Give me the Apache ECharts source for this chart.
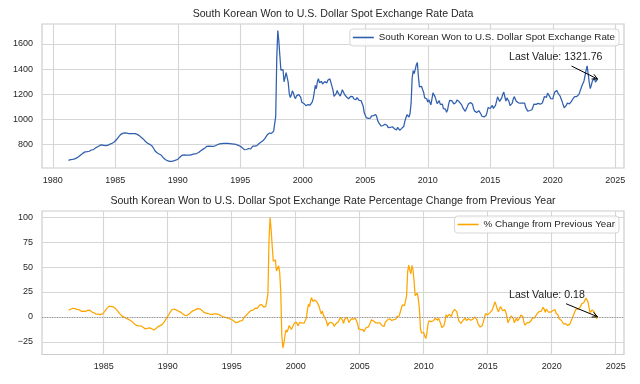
<!DOCTYPE html>
<html><head><meta charset="utf-8">
<script src="https://cdn.jsdelivr.net/npm/echarts@6/dist/echarts.min.js"></script>
<style>html,body{margin:0;padding:0;background:#fff}#c{width:640px;height:384px}</style>
</head><body><div id="c"></div>
<script>
// ---- data (monthly, from Apr 1981 to Aug 2023) ----
const startYear = 1981, startMonth = 4;
const krwUsd = [
  676, 679, 681, 683, 684, 686, 688, 691, 695,                       // 1981 Apr-Dec
  701, 707, 714, 721, 728, 733, 739, 743, 744, 745, 747, 748,        // 1982
  754, 758, 760, 761, 768, 775, 779, 784, 790, 794, 797, 798,        // 1983
  797, 795, 793, 792, 794, 796, 802, 805, 808, 812, 815, 822,        // 1984
  830, 839, 848, 860, 868, 880, 887, 890, 893, 894, 894, 892,        // 1985
  890, 889, 888, 888, 888, 889, 889, 888, 885, 882, 878, 872,        // 1986
  862, 857, 851, 844, 835, 825, 817, 812, 808, 803, 798, 792,        // 1987
  785, 768, 752, 742, 736, 731, 726, 722, 718, 708, 697, 688,        // 1988
  683, 678, 673, 670, 668, 667, 667, 668, 671, 674, 677, 680,        // 1989
  685, 692, 701, 710, 716, 719, 720, 720, 718, 717, 717, 716,        // 1990
  718, 720, 723, 727, 727, 728, 730, 733, 738, 745, 752, 758,        // 1991
  763, 768, 774, 781, 787, 790, 789, 788, 787, 786, 786, 788,        // 1992
  792, 796, 800, 803, 806, 807, 809, 810, 810, 810, 810, 809,        // 1993
  810, 810, 809, 808, 807, 806, 805, 804, 802, 799, 795, 790,        // 1994
  788, 782, 775, 766, 760, 759, 762, 766, 770, 768, 766, 770,        // 1995
  788, 788, 789, 790, 793, 800, 810, 817, 822, 827, 833, 842,        // 1996
  855, 866, 880, 893, 893, 889, 890, 893, 908, 922, 1025, 1484,      // 1997
  1707, 1624, 1505, 1392, 1395, 1397, 1300, 1305, 1373, 1335, 1295, 1208, // 1998
  1175, 1195, 1228, 1210, 1182, 1166, 1188, 1200, 1199, 1199, 1176, 1138, // 1999
  1128, 1128, 1117, 1110, 1119, 1119, 1114, 1114, 1124, 1139, 1166, 1215, // 2000
  1271, 1245, 1300, 1325, 1293, 1297, 1303, 1282, 1291, 1301, 1286, 1291, // 2001
  1312, 1318, 1323, 1322, 1264, 1233, 1184, 1199, 1206, 1231, 1209, 1205, // 2002
  1187, 1194, 1237, 1232, 1200, 1194, 1179, 1180, 1165, 1150, 1184, 1197, // 2003
  1182, 1163, 1167, 1158, 1175, 1163, 1152, 1155, 1150, 1141, 1106, 1053, // 2004
  1038, 1015, 1008, 1010, 1001, 1012, 1029, 1024, 1031, 1044, 1040, 1022, // 2005
  990, 973, 974, 950, 945, 952, 951, 962, 958, 952, 936, 925,        // 2006
  937, 939, 943, 930, 927, 928, 917, 938, 932, 915, 914, 930,        // 2007
  942, 947, 987, 986, 1038, 1030, 1020, 1050, 1130, 1330, 1388, 1365, // 2008
  1350, 1435, 1453, 1340, 1259, 1262, 1264, 1239, 1217, 1172, 1164, 1165, // 2009
  1139, 1157, 1137, 1117, 1164, 1212, 1204, 1180, 1172, 1127, 1139, 1150, // 2010
  1120, 1118, 1123, 1087, 1085, 1083, 1058, 1076, 1120, 1152, 1139, 1150, // 2011
  1148, 1124, 1127, 1136, 1155, 1165, 1143, 1133, 1123, 1107, 1088, 1075, // 2012
  1065, 1086, 1103, 1123, 1112, 1135, 1122, 1121, 1085, 1067, 1061, 1056, // 2013
  1066, 1071, 1069, 1044, 1026, 1019, 1020, 1025, 1033, 1061, 1096, 1101, // 2014
  1088, 1098, 1112, 1088, 1092, 1112, 1145, 1180, 1195, 1144, 1151, 1172, // 2015
  1201, 1218, 1181, 1146, 1172, 1165, 1143, 1111, 1106, 1128, 1162, 1182, // 2016
  1184, 1146, 1132, 1133, 1124, 1131, 1132, 1131, 1133, 1131, 1097, 1084, // 2017
  1067, 1080, 1072, 1069, 1078, 1093, 1123, 1121, 1120, 1131, 1128, 1122, // 2018
  1122, 1124, 1131, 1140, 1183, 1176, 1176, 1210, 1198, 1184, 1167, 1175, // 2019
  1164, 1194, 1220, 1225, 1230, 1210, 1199, 1187, 1179, 1144, 1117, 1094, // 2020
  1099, 1112, 1131, 1119, 1124, 1122, 1144, 1161, 1171, 1183, 1182, 1183, // 2021
  1195, 1198, 1220, 1233, 1269, 1282, 1307, 1319.4, 1391, 1427, 1364, 1297, // 2022
  1246, 1271, 1305, 1320, 1329, 1297, 1284, 1321.76                  // 2023 Jan-Aug
];
const topTitle = 'South Korean Won to U.S. Dollar Spot Exchange Rate Data';
const bottomTitle = 'South Korean Won to U.S. Dollar Spot Exchange Rate Percentage Change from Previous Year';
const rateName = 'South Korean Won to U.S. Dollar Spot Exchange Rate';
const pctName = '% Change from Previous Year';
const topXTicks = [1980, 1985, 1990, 1995, 2000, 2005, 2010, 2015, 2020, 2025];
const topYTicks = [800, 1000, 1200, 1400, 1600];
const bottomXTicks = [1985, 1990, 1995, 2000, 2005, 2010, 2015, 2020, 2025];
const bottomYTicks = [-25, 0, 25, 50, 75, 100];

// ---- derived ----
const xs = krwUsd.map((_, i) => startYear + (startMonth - 1 + i) / 12);
const rateData = krwUsd.map((v, i) => [xs[i], v]);
const pctData = [];
for (let i = 12; i < krwUsd.length; i++) pctData.push([xs[i], (krwUsd[i] / krwUsd[i - 12] - 1) * 100]);
function padExt(vals) {
  const lo = Math.min(...vals), hi = Math.max(...vals), m = 0.05 * (hi - lo);
  return [lo - m, hi + m];
}
const topX = padExt(rateData.map(d => d[0])), topY = padExt(rateData.map(d => d[1]));
const botX = padExt(pctData.map(d => d[0])), botY = padExt(pctData.map(d => d[1]));

const FONT = 'Liberation Sans';
const TXT = '#262626';
const GRIDC = '#d6d6d6';
const fmt = v => (v < 0 ? '\u2212' + Math.abs(Math.round(v)) : String(Math.round(v)));
function xAxis(gi, ext, ticks) {
  return {
    type: 'value', gridIndex: gi, min: ext[0], max: ext[1],
    axisLine: { show: false },
    axisTick: { show: false, customValues: ticks },
    axisLabel: { customValues: ticks, formatter: fmt, fontFamily: FONT, fontSize: 9, color: TXT, margin: 8 },
    splitLine: { show: true, lineStyle: { color: GRIDC, width: 1.1 } }
  };
}
function yAxis(gi, ext, ticks) {
  return {
    type: 'value', gridIndex: gi, min: ext[0], max: ext[1],
    axisLine: { show: false },
    axisTick: { show: false, customValues: ticks },
    axisLabel: { customValues: ticks, formatter: fmt, fontFamily: FONT, fontSize: 9, color: TXT, margin: 9 },
    splitLine: { show: true, lineStyle: { color: GRIDC, width: 1.1 } }
  };
}
function legend(name, top) {
  return {
    data: [{ name: name, icon: 'rect' }], right: 21, top: top,
    itemWidth: 21, itemHeight: 1.6, padding: [3, 4, 3, 3],
    borderColor: '#cccccc', borderWidth: 0.8, borderRadius: 3,
    backgroundColor: 'rgba(255,255,255,0.8)',
    textStyle: { fontFamily: FONT, fontSize: 9.8, color: TXT, lineHeight: 11 }
  };
}

const chart = echarts.init(document.getElementById('c'), null, { renderer: 'canvas' });
chart.setOption({
  animation: false,
  backgroundColor: '#ffffff',
  title: [
    { text: topTitle, left: 333, top: 9, textAlign: 'center', padding: 0,
      textStyle: { fontFamily: FONT, fontSize: 10.6, fontWeight: 'normal', color: TXT } },
    { text: bottomTitle, left: 333, top: 196, textAlign: 'center', padding: 0,
      textStyle: { fontFamily: FONT, fontSize: 10.6, fontWeight: 'normal', color: TXT } }
  ],
  grid: [
    { left: 42, right: 16, top: 24, height: 144, show: true, borderColor: '#cccccc', borderWidth: 1.2, backgroundColor: '#fff' },
    { left: 42, right: 16, top: 211, height: 143.5, show: true, borderColor: '#cccccc', borderWidth: 1.2, backgroundColor: '#fff' }
  ],
  xAxis: [xAxis(0, topX, topXTicks), xAxis(1, botX, bottomXTicks)],
  yAxis: [yAxis(0, topY, topYTicks), yAxis(1, botY, bottomYTicks)],
  legend: [legend(rateName, 29), legend(pctName, 216)],
  series: [
    { name: rateName, type: 'line', xAxisIndex: 0, yAxisIndex: 0, data: rateData,
      showSymbol: false, color: '#2f5fae', lineStyle: { width: 1.25, color: '#2f5fae' } },
    { name: pctName, type: 'line', xAxisIndex: 1, yAxisIndex: 1, data: pctData,
      showSymbol: false, color: '#ffa500', lineStyle: { width: 1.25, color: '#ffa500' },
      markLine: { silent: true, symbol: 'none', label: { show: false },
        lineStyle: { color: '#7f7f7f', type: [1, 1.5], width: 0.8 },
        data: [{ yAxis: 0 }] } }
  ]
});

// ---- annotations anchored at the last data points ----
function annot(seriesIndex, pt, label, tailOff) {
  const p = chart.convertToPixel({ seriesIndex: seriesIndex }, pt);
  const tail = [p[0] + tailOff[0], p[1] + tailOff[1]];
  const ang = Math.atan2(p[1] - tail[1], p[0] - tail[0]);
  const hl = 6, hw = 0.45;
  const h1 = [p[0] - hl * Math.cos(ang - hw), p[1] - hl * Math.sin(ang - hw)];
  const h2 = [p[0] - hl * Math.cos(ang + hw), p[1] - hl * Math.sin(ang + hw)];
  return [
    { type: 'text', x: p[0] - 88.5, y: p[1] - 21.5, z: 100,
      style: { text: label, fontFamily: FONT, fontSize: 10.6, fill: '#1a1a1a', verticalAlign: 'middle', align: 'left' } },
    { type: 'polyline', z: 100, shape: { points: [tail, p] }, style: { stroke: '#000', lineWidth: 1, fill: null } },
    { type: 'polyline', z: 100, shape: { points: [h1, p, h2] }, style: { stroke: '#000', lineWidth: 1, fill: null } }
  ];
}
const lastR = rateData[rateData.length - 1], lastP = pctData[pctData.length - 1];
chart.setOption({
  graphic: [].concat(
    annot(0, lastR, 'Last Value: ' + lastR[1].toFixed(2), [-26, -13]),
    annot(1, lastP, 'Last Value: ' + lastP[1].toFixed(2), [-31.5, -13])
  )
});
</script>
</body></html>
